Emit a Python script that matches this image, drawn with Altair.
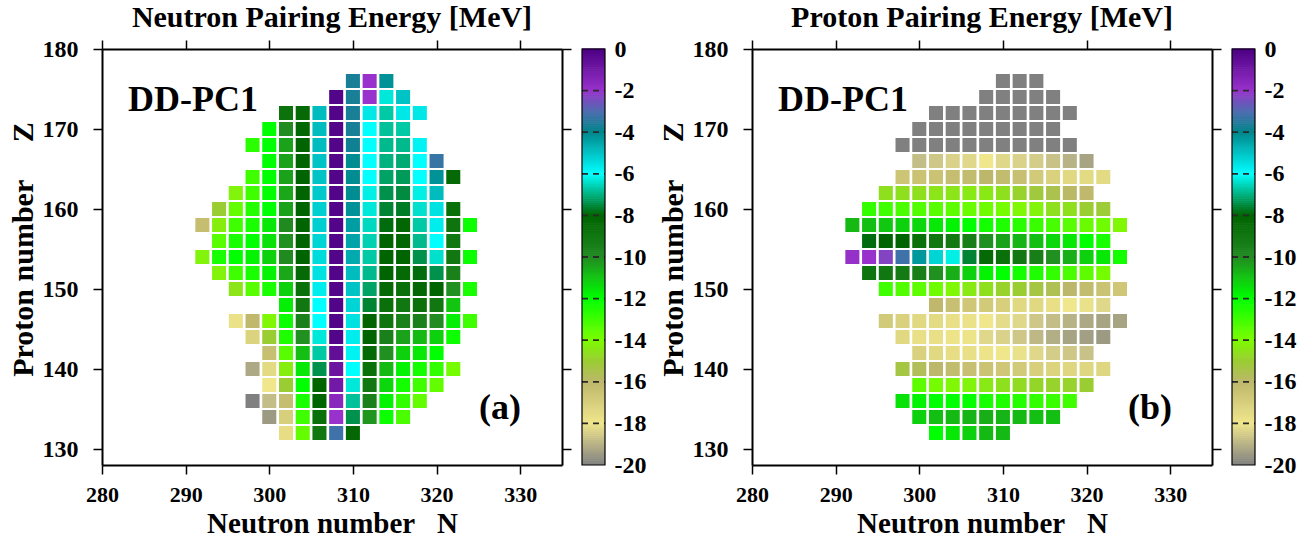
import altair as alt
import numpy as np
import pandas as pd

FONT = "Liberation Serif"

# Each row of the nuclear chart: proton number Z and the first neutron number N
# (neighbouring nuclei in a row are two neutrons apart).
Z_ROWS = [176, 174, 172, 170, 168, 166, 164, 162, 160, 158, 156, 154,
          152, 150, 148, 146, 144, 142, 140, 138, 136, 134, 132]
N_FIRST = [310, 308, 302, 300, 298, 300, 298, 296, 294, 292, 294, 292,
           294, 296, 302, 296, 298, 300, 298, 300, 298, 300, 302]

# Neutron pairing energy [MeV], row by row
NEUTRON_PAIRING = [
    [-3.7, -2.0, -4.2],
    [-0.2, -3.7, -2.0, -6.3, -5.0],
    [-8.7, -8.3, -4.9, -0.2, -3.7, -5.6, -6.7, -5.6, -5.6],
    [-12.0, -10.0, -8.2, -4.9, -0.2, -3.7, -6.0, -6.8, -6.7],
    [-12.7, -12.0, -10.4, -8.0, -4.9, -0.2, -3.8, -6.0, -6.9, -6.9, -5.8],
    [-12.0, -10.4, -8.0, -5.0, -0.2, -4.1, -6.0, -7.0, -7.1, -6.0, -3.3],
    [-13.0, -12.0, -10.4, -8.0, -5.0, -0.2, -4.1, -6.0, -7.2, -7.3, -6.0, -4.2, -8.3],
    [-14.2, -13.0, -12.0, -10.5, -8.0, -5.1, -0.2, -4.1, -6.2, -7.4, -7.5, -6.2, -4.9],
    [-15.0, -13.6, -12.6, -12.0, -10.4, -8.0, -5.2, -0.2, -4.2, -6.3, -7.6, -7.7, -6.4, -5.5, -8.6],
    [-16.3, -14.3, -13.0, -12.4, -11.6, -9.9, -8.0, -5.2, -0.2, -4.4, -6.5, -7.9, -8.1, -6.7, -5.7, -8.8, -12.2],
    [-13.4, -12.4, -12.0, -11.5, -10.1, -8.0, -5.3, -0.2, -4.5, -6.6, -8.0, -8.1, -6.9, -6.0, -9.0],
    [-14.2, -12.4, -12.0, -11.8, -11.2, -9.9, -8.0, -5.4, -0.2, -4.6, -6.7, -8.0, -8.0, -7.4, -6.4, -9.0, -12.2],
    [-14.2, -13.0, -12.4, -11.8, -10.5, -8.3, -5.5, -0.2, -4.9, -6.9, -8.0, -8.3, -7.9, -7.4, -9.5],
    [-14.5, -13.4, -12.4, -11.2, -8.6, -5.7, -0.2, -5.0, -7.2, -8.3, -8.6, -8.2, -8.0, -10.1, -12.4],
    [-11.7, -9.0, -6.0, -0.2, -5.3, -7.6, -8.6, -9.0, -8.6, -9.0, -11.0],
    [-17.8, -16.1, -14.1, -12.2, -9.5, -6.0, -0.2, -5.5, -8.0, -8.9, -9.5, -9.5, -10.0, -11.7, -13.0],
    [-17.2, -15.0, -12.5, -10.1, -6.3, -0.2, -5.7, -8.0, -9.5, -10.4, -10.8, -11.2, -12.2],
    [-16.4, -13.4, -10.9, -6.7, -0.6, -5.8, -8.3, -10.1, -11.2, -11.6, -12.0],
    [-19.2, -17.5, -14.3, -11.6, -7.4, -0.8, -6.0, -8.6, -10.8, -11.8, -12.3, -12.8, -13.9],
    [-18.0, -15.0, -12.0, -8.0, -1.0, -6.3, -9.0, -11.3, -12.3, -13.0, -13.6],
    [-20.0, -18.8, -16.3, -12.4, -8.0, -1.6, -6.8, -9.5, -11.8, -12.8, -13.6],
    [-19.5, -17.0, -13.0, -8.6, -2.0, -7.4, -10.2, -12.2, -13.2],
    [-17.6, -13.6, -9.0, -3.2, -8.2],
]

# Proton pairing energy [MeV], row by row
PROTON_PAIRING = [
    [-20.0, -20.0, -20.0],
    [-20.0, -20.0, -20.0, -20.0, -20.0],
    [-20.0] * 9,
    [-20.0] * 9,
    [-20.0] * 11,
    [-18.8, -18.6, -18.4, -18.3, -18.0, -18.3, -18.4, -18.5, -18.7, -19.0, -19.3],
    [-16.6, -16.5, -16.5, -16.3, -16.2, -16.0, -16.2, -16.4, -16.8, -17.1, -17.4, -17.5, -17.5],
    [-14.6, -14.6, -14.6, -14.5, -14.5, -14.4, -14.4, -14.6, -14.9, -15.2, -15.5, -15.9, -16.1],
    [-12.8, -13.0, -13.2, -13.3, -13.4, -13.5, -13.7, -13.8, -13.9, -14.1, -14.2, -14.6, -14.6, -15.0, -15.1],
    [-10.8, -10.9, -11.05, -11.2, -11.3, -11.6, -11.8, -12.0, -12.3, -12.5, -12.65, -12.9, -13.15, -13.4, -13.7, -13.8, -14.1],
    [-7.9, -8.0, -8.0, -8.6, -9.0, -9.1, -9.4, -10.1, -10.4, -10.7, -10.9, -11.3, -11.6, -12.0, -12.4],
    [-1.9, -2.0, -2.3, -3.2, -4.3, -5.3, -6.2, -7.6, -8.3, -8.6, -9.0, -9.4, -10.1, -10.6, -11.2, -11.6, -12.3],
    [-8.8, -9.0, -9.2, -9.4, -10.1, -10.6, -11.2, -11.8, -12.0, -12.3, -12.5, -12.8, -13.2, -13.5, -13.9],
    [-13.0, -13.3, -13.5, -13.8, -14.1, -14.4, -14.6, -14.9, -15.0, -15.3, -15.6, -16.0, -16.2, -16.5, -16.7],
    [-16.1, -16.4, -16.7, -16.8, -17.0, -17.4, -17.4, -17.7, -18.0, -18.1, -18.3],
    [-16.8, -17.1, -17.4, -17.5, -17.7, -17.8, -18.0, -18.2, -18.3, -18.6, -18.8, -19.0, -19.2, -19.3, -19.3],
    [-17.4, -17.7, -17.7, -17.9, -17.9, -18.3, -18.4, -18.6, -18.9, -19.1, -19.3, -19.4, -19.5],
    [-17.1, -17.4, -17.6, -17.7, -17.9, -18.0, -18.1, -18.3, -18.5, -18.6, -18.7],
    [-15.3, -15.7, -16.0, -16.2, -16.4, -16.5, -16.7, -16.8, -17.0, -17.2, -17.3, -17.3, -17.3],
    [-13.5, -13.9, -14.1, -14.2, -14.4, -14.6, -14.7, -14.8, -14.9, -14.9, -15.0],
    [-11.5, -11.8, -12.0, -12.0, -12.1, -12.4, -12.5, -12.6, -12.8, -12.9, -13.0],
    [-11.2, -10.9, -10.8, -10.7, -10.6, -10.7, -10.8, -10.9, -10.9],
    [-12.0, -11.6, -11.2, -10.8, -10.8],
]

PANEL_TITLES = ["Neutron Pairing Energy [MeV]", "Proton Pairing Energy [MeV]"]
PANEL_TAGS = ["(a)", "(b)"]
MODEL = "DD-PC1"
# wide gap before the symbol, kept with non-breaking spaces
X_TITLE = "Neutron number\u00a0\u00a0\u00a0N"
Y_TITLE = "Proton number" + "\u00a0" * 5 + "Z"

N_TICKS = [280, 290, 300, 310, 320, 330]
Z_TICKS = [130, 140, 150, 160, 170, 180]
CBAR_TICKS = [0, -2, -4, -6, -8, -10, -12, -14, -16, -18, -20]

# Palette stops of the pairing-energy colour map
CMAP_STOPS = [-20, -18, -16, -15, -14, -12, -10, -8, -6, -4, -3, -2, 0]
CMAP_COLORS = ["#808080", "#f0e68c", "#bdb76b", "#9acd32", "#7cfc00", "#00ff00",
               "#228b22", "#006400", "#00ffff", "#00868b", "#4f6db0", "#9932cc", "#4b0082"]

rows = []
for z, n0, e_n, e_p in zip(Z_ROWS, N_FIRST, NEUTRON_PAIRING, PROTON_PAIRING):
    for i, (vn, vp) in enumerate(zip(e_n, e_p)):
        rows.append({"N": n0 + 2 * i, "Z": z, "neutron": vn, "proton": vp})
nuclei = pd.DataFrame(rows)

# colour bar: fine samples of the colour scale between -20 and 0
samples = np.round(np.arange(-20.0, 0.0, 0.1), 2)
gradient = pd.DataFrame({"v0": samples, "v1": samples + 0.13, "vc": samples + 0.05})
bar_ticks = pd.DataFrame({"t": CBAR_TICKS[1:-1]})
bar_box = pd.DataFrame({"t": [0]})

W, H = 460, 416
BAR_X0, BAR_X1 = 480, 503

color_scale = alt.Scale(domain=CMAP_STOPS, range=CMAP_COLORS, interpolate="rgb", clamp=True)
x_scale = alt.Scale(domain=[280, 335], nice=False, zero=False)
y_scale = alt.Scale(domain=[128, 180], nice=False, zero=False)
bar_scale = alt.Scale(domain=[-20, 0], nice=False, zero=False)

tick_style = dict(tickSize=9, tickWidth=1.5, tickColor="black",
                  domainColor="black", domainWidth=2, grid=False)


def panel(field, title, tag):
    base = alt.Chart(nuclei)
    cells = base.transform_calculate(
        n0="datum.N - 0.84", n1="datum.N + 0.84",
        z0="datum.Z - 0.875", z1="datum.Z + 0.875",
    ).mark_rect().encode(
        x=alt.X("n0:Q", scale=x_scale,
                axis=alt.Axis(orient="bottom", values=N_TICKS, format="d",
                              labelFontSize=22, labelPadding=10, titlePadding=4,
                              titleFontSize=29,
                              title=X_TITLE, **tick_style)),
        x2="n1:Q",
        y=alt.Y("z0:Q", scale=y_scale,
                axis=alt.Axis(orient="left", values=Z_TICKS, format="d",
                              labelFontSize=24, labelPadding=15, titlePadding=4,
                              titleY=H / 2 - 8,
                              title=Y_TITLE, **tick_style)),
        y2="z1:Q",
        color=alt.Color(f"{field}:Q", scale=color_scale, legend=None),
    )
    mirror = base.mark_point(opacity=0).encode(
        x=alt.X("N:Q", scale=x_scale,
                axis=alt.Axis(orient="top", values=N_TICKS, labels=False,
                              title=None, **tick_style)),
        y=alt.Y("Z:Q", scale=y_scale,
                axis=alt.Axis(orient="right", values=Z_TICKS, labels=False,
                              title=None, **tick_style)),
    )
    model = alt.Chart(pd.DataFrame({"text": [MODEL]})).mark_text(
        font=FONT, fontSize=36, fontWeight="bold", color="black",
        align="left", baseline="alphabetic",
    ).encode(
        x=alt.XDatum(283.1, type="quantitative", scale=x_scale, axis=None),
        y=alt.YDatum(172.3, type="quantitative", scale=y_scale, axis=None),
        text="text:N",
    )
    label = alt.Chart(pd.DataFrame({"text": [tag]})).mark_text(
        font=FONT, fontSize=36, fontWeight="bold", color="black",
        align="center", baseline="alphabetic",
    ).encode(
        x=alt.XDatum(327.6, type="quantitative", scale=x_scale, axis=None),
        y=alt.YDatum(133.7, type="quantitative", scale=y_scale, axis=None),
        text="text:N",
    )
    plot = alt.layer(cells, mirror, model, label).resolve_axis(
        x="independent", y="independent")

    bar_axis = alt.Axis(orient="right", offset=BAR_X1 - W, values=CBAR_TICKS,
                        domain=False, ticks=False, grid=False, labelPadding=9,
                        labelFontSize=24,
                        labelExpr="datum.value == 0 ? '\u00a00' : '' + datum.value",
                        title=None)
    strip = alt.Chart(gradient).mark_rect().encode(
        x=alt.value(BAR_X0), x2=alt.value(BAR_X1),
        y=alt.Y("v0:Q", scale=bar_scale, axis=bar_axis),
        y2="v1:Q",
        color=alt.Color("vc:Q", scale=color_scale, legend=None),
    )
    dashes = alt.Chart(bar_ticks).mark_rule(
        stroke="#2a2a2a", strokeWidth=1.8, strokeDash=[6, 5],
    ).encode(
        x=alt.value(BAR_X0), x2=alt.value(BAR_X1),
        y=alt.Y("t:Q", scale=bar_scale, axis=bar_axis),
    )
    box = alt.Chart(bar_box).mark_rect(
        fill="transparent", stroke="black", strokeWidth=1.2,
    ).encode(
        x=alt.value(BAR_X0), x2=alt.value(BAR_X1),
        y=alt.value(0), y2=alt.value(H),
    )
    bar = alt.layer(strip, dashes, box)

    return alt.layer(plot, bar).resolve_scale(y="independent").properties(
        width=W, height=H,
        title=alt.TitleParams(title, anchor="middle", offset=4),
    )


chart = alt.hconcat(
    panel("neutron", PANEL_TITLES[0], PANEL_TAGS[0]),
    panel("proton", PANEL_TITLES[1], PANEL_TAGS[1]),
    spacing=190, bounds="flush",
).configure_view(
    stroke=None,
).configure_axis(
    labelFont=FONT, labelFontSize=24, labelFontWeight="bold", labelColor="black",
    titleFont=FONT, titleFontSize=30, titleFontWeight="bold", titleColor="black",
    labelFlush=False,
).configure_title(
    font=FONT, fontSize=30, fontWeight="bold", color="black",
).properties(
    padding={"left": 8, "top": 3, "right": 4, "bottom": 2},
    background="white",
)

chart.save("out.html", embed_options={"renderer": "svg", "actions": False})
